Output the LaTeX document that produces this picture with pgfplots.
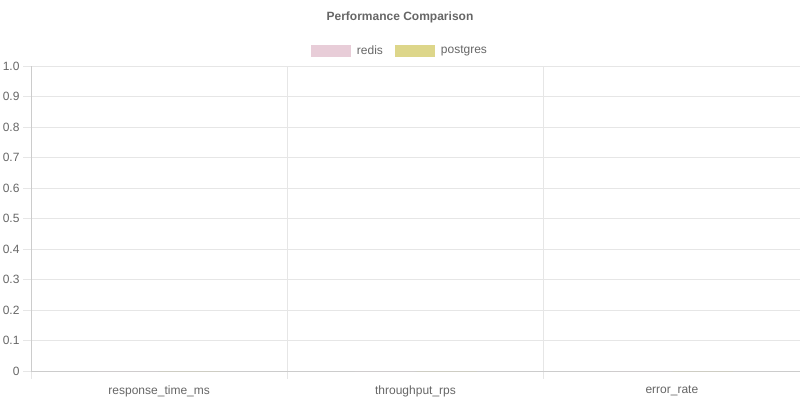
\documentclass[border=0pt]{standalone}
\usepackage{pgfplots}
\pgfplotsset{compat=1.18}
\usepackage{fontspec}
\setmainfont{Liberation Sans}
\definecolor{txt}{HTML}{666666}
\definecolor{gridc}{HTML}{E6E6E6}
\definecolor{axc}{HTML}{CCCCCC}
\definecolor{redisc}{HTML}{E8CDD8}
\definecolor{pgc}{HTML}{DDD68A}
\begin{document}
\begin{tikzpicture}[x=1bp,y=1bp]
\useasboundingbox (0,0) rectangle (800,400);
\node[font=\fontsize{12bp}{14bp}\selectfont\bfseries, text=txt] at (400,383) {Performance Comparison};
\begin{axis}[
  at={(31bp,29bp)}, anchor=south west,
  scale only axis, width=769bp, height=305bp,
  xmin=-0.5, xmax=2.5, ymin=0, ymax=1,
  ybar, bar width=60bp,
  axis x line*=bottom, axis y line*=left,
  axis line style={draw=axc, -},
  tick align=outside, major tick length=8bp,
  xtick={-0.5,0.5,1.5,2.5}, xticklabels={},
  xmajorgrids, ymajorgrids,
  grid style={draw=gridc, line width=0.8bp},
  tick style={draw=gridc, line width=0.8bp},
  extra x ticks={0,1,2},
  extra x tick labels={response\_time\_ms, throughput\_rps, error\_rate},
  extra x tick style={grid=none, major tick length=0pt, tick label style={yshift=-11bp}},
  ytick={0,0.1,...,1.0},
  yticklabels={0,0.1,0.2,0.3,0.4,0.5,0.6,0.7,0.8,0.9,1.0},
  /pgf/number format/assume math mode=true,
  tick label style={font=\fontsize{12bp}{14bp}\selectfont, text=txt},
  legend columns=2,
  legend style={at={(0.4798,1.0508)}, anchor=center, draw=none, fill=none,
    font=\fontsize{12bp}{14bp}\selectfont, text=txt,
    /tikz/every odd column/.append style={column sep=4bp},
    /tikz/every even column/.append style={column sep=10bp}},
  legend image code/.code={\fill[#1] (0bp,-6bp) rectangle (40bp,6bp);},
]
\addplot[fill=redisc, draw=none, legend image code/.code={\fill[redisc] (0bp,-6bp) rectangle (40bp,6bp);}] coordinates {(0,0) (1,0) (2,0)};
\addplot[fill=pgc, draw=none, legend image code/.code={\fill[pgc] (0bp,-6bp) rectangle (40bp,6bp);}] coordinates {(0,0) (1,0) (2,0)};
\legend{redis, postgres}
\end{axis}
\end{tikzpicture}
\end{document}
